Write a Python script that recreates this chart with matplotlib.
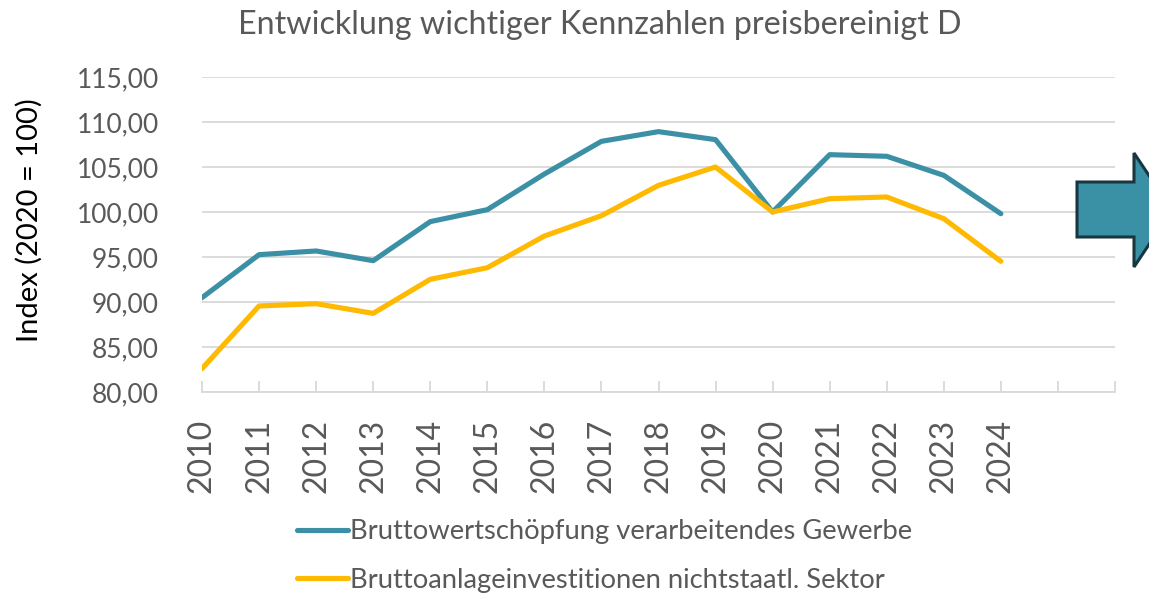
import numpy as np
import matplotlib
matplotlib.use("Agg")
import matplotlib.pyplot as plt
from matplotlib.patches import Polygon
from matplotlib.ticker import FuncFormatter

plt.rcParams['font.family'] = ['Lato', 'DejaVu Sans']

# categories: 2010..2024 plus two empty slots like in the original sheet
years = [str(y) for y in range(2010, 2025)] + ['', '']
bws = [90.48, 95.26, 95.67, 94.59, 98.93, 100.26, 104.22, 107.85, 108.93,
       108.04, 100.0, 106.37, 106.19, 104.07, 99.81]
bai = [82.6, 89.56, 89.81, 88.74, 92.52, 93.81, 97.33, 99.59, 102.96,
       105.0, 100.0, 101.48, 101.67, 99.26, 94.52]
names = ['Bruttowertschöpfung verarbeitendes Gewerbe',
         'Bruttoanlageinvestitionen nichtstaatl. Sektor']
yticks = [80, 85, 90, 95, 100, 105, 110, 115]

teal = '#3C90A6'
gold = '#FFB900'
grey = '#595959'

W, H = 1149, 594
fig = plt.figure(figsize=(W / 100, H / 100), dpi=100)
ax = fig.add_axes([202 / W, 1 - 392 / H, (1115 - 202) / W, (392 - 77) / H])

x = np.arange(len(bws))
ax.plot(x, bws, color=teal, lw=3.7, solid_capstyle='round', solid_joinstyle='round', label=names[0])
ax.plot(x, bai, color=gold, lw=3.7, solid_capstyle='round', solid_joinstyle='round', label=names[1])

ax.set_xlim(0, len(years) - 1)
ax.set_ylim(yticks[0], yticks[-1])
ax.set_yticks(yticks)
ax.yaxis.set_major_formatter(FuncFormatter(lambda v, p: f'{v:.2f}'.replace('.', ',')))
ax.set_xticks(np.arange(len(years)))
ax.set_xticklabels(years, rotation=90)

ax.grid(axis='y', color='#D9D9D9', lw=1.3)
ax.set_axisbelow(True)
for s in ['top', 'right', 'left']:
    ax.spines[s].set_visible(False)
ax.spines['bottom'].set_color('#D9D9D9')
ax.spines['bottom'].set_linewidth(1.3)

ax.tick_params(axis='y', length=0, pad=31, labelsize=19, labelcolor=grey)
ax.tick_params(axis='x', direction='in', length=8, width=1.3, color='#D9D9D9',
               pad=19, labelsize=23, labelcolor=grey)

ax.set_ylabel('Index (2020 = 100)', fontsize=21, color='black')
ax.yaxis.set_label_coords(-0.174, 0.546)
fig.text(600 / W, 1 - 25 / H, 'Entwicklung wichtiger Kennzahlen preisbereinigt D',
         ha='center', va='center', fontsize=23.2, color=grey)

leg = fig.legend(loc='center left', bbox_to_anchor=(297 / W, 1 - 556 / H),
                 frameon=False, fontsize=19.7, handlelength=1.85, handletextpad=0.1,
                 labelspacing=0.85, borderpad=0, borderaxespad=0)
for t in leg.get_texts():
    t.set_color(grey)

# block arrow on the right edge
pts = [(1077, 182), (1134, 182), (1134, 153), (1172, 210),
       (1134, 267), (1134, 237), (1077, 237)]
arrow = Polygon([(px / W, 1 - py / H) for px, py in pts], closed=True,
                transform=fig.transFigure, facecolor='#3A91A6',
                edgecolor='#17363F', lw=2.2)
fig.patches.append(arrow)

fig.savefig('out.png', dpi=100)
